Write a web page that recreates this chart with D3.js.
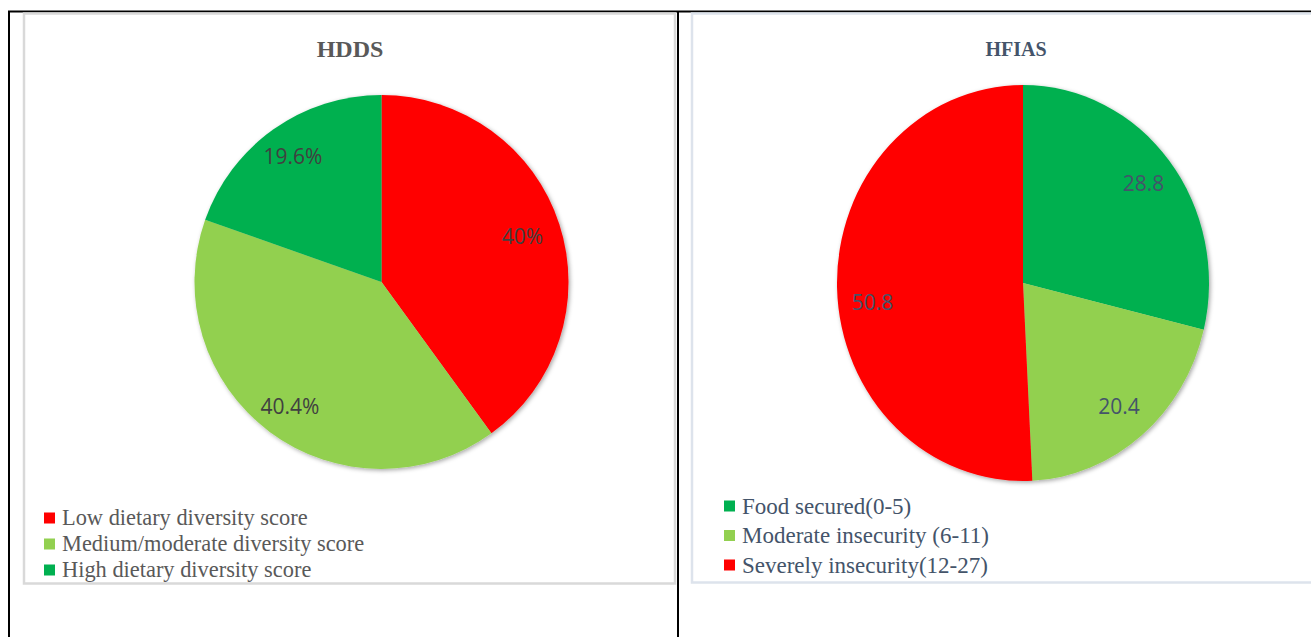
<!DOCTYPE html>
<html>
<head>
<meta charset="utf-8">
<script src="https://cdn.jsdelivr.net/npm/d3@7"></script>
<style>
  html, body { margin: 0; padding: 0; background: #ffffff; }
  svg { display: block; }
</style>
</head>
<body>
<svg id="chart" width="1311" height="637"></svg>
<script>
// Household Dietary Diversity Score (HDDS) shares, %
const hddsCategories = ["Low dietary diversity score", "Medium/moderate diversity score", "High dietary diversity score"];
const hddsValues = [40, 40.4, 19.6];
const hddsLabels = ["40%", "40.4%", "19.6%"];
const hddsColors = ["#ff0000", "#92d050", "#00b050"];

// Household Food Insecurity Access Scale (HFIAS) shares, %
const hfiasCategories = ["Food secured(0-5)", "Moderate insecurity (6-11)", "Severely insecurity(12-27)"];
const hfiasValues = [28.8, 20.4, 50.8];
const hfiasLabels = ["28.8", "20.4", "50.8"];
const hfiasColors = ["#00b050", "#92d050", "#ff0000"];

const svg = d3.select("#chart");

// soft shadow under each pie
const defs = svg.append("defs");
const f = defs.append("filter").attr("id", "pieShadow")
  .attr("x", "-10%").attr("y", "-10%").attr("width", "120%").attr("height", "120%");
f.append("feDropShadow").attr("dx", 1.5).attr("dy", 1.5).attr("stdDeviation", 2)
  .attr("flood-color", "#000").attr("flood-opacity", 0.35);

// table rules
svg.append("line").attr("x1", 8).attr("x2", 1311).attr("y1", 11.5).attr("y2", 11.5)
  .attr("stroke", "#000").attr("stroke-width", 2);
svg.append("line").attr("x1", 9).attr("x2", 9).attr("y1", 11).attr("y2", 637)
  .attr("stroke", "#000").attr("stroke-width", 2);
svg.append("line").attr("x1", 678).attr("x2", 678).attr("y1", 11).attr("y2", 637)
  .attr("stroke", "#000").attr("stroke-width", 2);

function drawPanel(opt) {
  const g = svg.append("g");
  // chart frame
  g.append("rect")
    .attr("x", opt.frame[0]).attr("y", opt.frame[1])
    .attr("width", opt.frame[2]).attr("height", opt.frame[3])
    .attr("fill", "#fff").attr("stroke", opt.frameColor).attr("stroke-width", 2.5);

  // title
  g.append("text")
    .attr("x", opt.titleX).attr("y", opt.titleY)
    .attr("text-anchor", "middle")
    .attr("font-family", "'Liberation Serif', 'DejaVu Serif', serif")
    .attr("font-weight", "bold")
    .attr("font-size", opt.titleSize)
    .attr("fill", opt.titleColor)
    .text(opt.title);

  const pie = d3.pie().sort(null).value(d => d)(opt.values);
  const arc = d3.arc().innerRadius(0).outerRadius(opt.r);
  const labelArc = d3.arc().innerRadius(opt.r * opt.labelFrac).outerRadius(opt.r * opt.labelFrac);
  const sy = opt.ry / opt.r;

  const pg = g.append("g")
    .attr("transform", `translate(${opt.cx},${opt.cy})`);
  const slices = pg.append("g").attr("filter", "url(#pieShadow)")
    .attr("transform", `scale(1,${sy})`);
  slices.selectAll("path").data(pie).join("path")
    .attr("d", arc)
    .attr("fill", (d, i) => opt.colors[i]);

  pg.selectAll("text.lbl").data(pie).join("text")
    .attr("class", "lbl")
    .attr("x", (d, i) => labelArc.centroid(d)[0] + opt.labelNudge[i][0])
    .attr("y", (d, i) => labelArc.centroid(d)[1] * sy + opt.labelNudge[i][1])
    .attr("dy", "0.36em")
    .attr("text-anchor", "middle")
    .attr("font-family", "'Open Sans', 'Noto Sans', sans-serif")
    .attr("font-size", 21)
    .attr("fill", opt.labelColor)
    .text((d, i) => opt.labels[i]);

  // legend
  const lg = g.append("g");
  opt.legendOrder.forEach((idx, k) => {
    const y = opt.legendY + k * opt.legendStep;
    lg.append("rect")
      .attr("x", opt.legendX).attr("y", y - 5.5)
      .attr("width", 11).attr("height", 11)
      .attr("fill", opt.colors[idx]);
    lg.append("text")
      .attr("x", opt.legendX + 18).attr("y", y)
      .attr("dy", "0.33em")
      .attr("font-family", "'Liberation Serif', 'DejaVu Serif', serif")
      .attr("font-size", opt.legendSize)
      .attr("fill", opt.legendColor)
      .text(opt.categories[idx]);
  });
}

drawPanel({
  frame: [24, 13.5, 651, 570],
  frameColor: "#d9d9d9",
  title: "HDDS", titleX: 350, titleY: 57, titleColor: "#595959", titleSize: 24,
  values: hddsValues, labels: hddsLabels, colors: hddsColors, categories: hddsCategories,
  cx: 381.5, cy: 282, r: 187, ry: 187, labelFrac: 0.82,
  labelNudge: [[-5, 2], [0, 2], [0, 0]],
  labelColor: "#404040",
  legendX: 44, legendY: 518, legendStep: 26, legendOrder: [0, 1, 2],
  legendColor: "#595959", legendSize: 22.4
});

drawPanel({
  frame: [692, 13.5, 640, 569],
  frameColor: "#dde3ec",
  title: "HFIAS", titleX: 1016, titleY: 56, titleColor: "#44546a", titleSize: 20,
  values: hfiasValues, labels: hfiasLabels, colors: hfiasColors, categories: hfiasCategories,
  cx: 1023, cy: 283, r: 186, ry: 198, labelFrac: 0.81,
  labelNudge: [[2, 0], [0, 0], [0, 15]],
  labelColor: "#44546a",
  legendX: 724, legendY: 506, legendStep: 29.5, legendOrder: [0, 1, 2],
  legendColor: "#44546a", legendSize: 23
});
</script>
</body>
</html>
